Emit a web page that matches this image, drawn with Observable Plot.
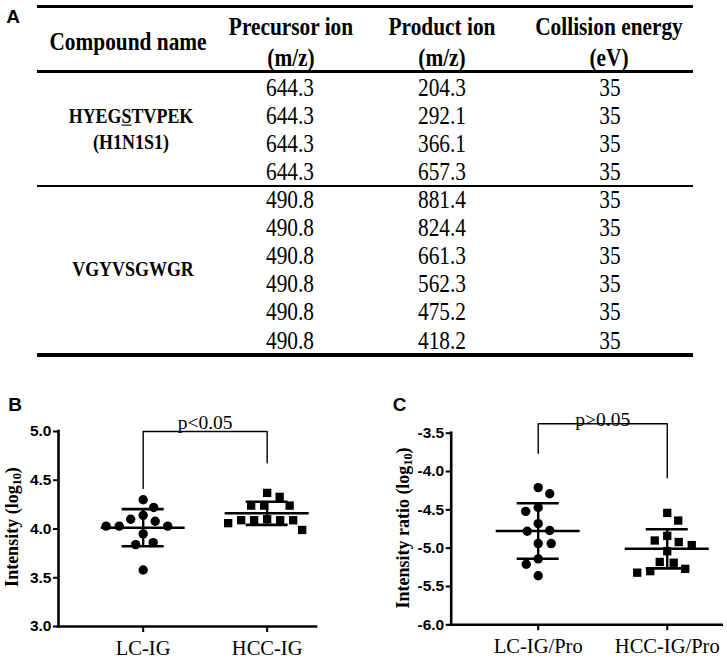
<!DOCTYPE html>
<html><head><meta charset="utf-8">
<script src="https://cdn.jsdelivr.net/npm/d3@7"></script>
<script src="https://cdn.jsdelivr.net/npm/@observablehq/plot@0.6"></script>
<style>
html,body{margin:0;padding:0;background:#fff;}
#root{position:relative;width:727px;height:660px;overflow:hidden;color:#000;}
.t{position:absolute;transform:translate(-50%,-50%);line-height:1;white-space:nowrap;}
.tall{transform:translate(-50%,-50%) scale(0.97,1.12);}
.serif{font-family:"Liberation Serif","Times New Roman",serif;}
.sans{font-family:"Liberation Sans",Arial,sans-serif;font-weight:bold;}
.rule{position:absolute;background:#000;}
svg{position:absolute;}
</style></head><body><div id="root"></div>
<script>
// ---------- Panel A: table data ----------
const headerTop = ["Compound name", "Precursor ion", "Product ion", "Collision energy"];
const headerUnits = ["", "(m/z)", "(m/z)", "(eV)"];
const compoundNames = ["HYEGSTVPEK", "VGYVSGWGR"];
const compoundGlycans = ["(H1N1S1)", ""];
const compoundSiteIndex = [4, -1];
const compoundRowCounts = [4, 6];
const precursorIon = [644.3, 644.3, 644.3, 644.3, 490.8, 490.8, 490.8, 490.8, 490.8, 490.8];
const productIon = [204.3, 292.1, 366.1, 657.3, 881.4, 824.4, 661.3, 562.3, 475.2, 418.2];
const collisionEnergy = [35, 35, 35, 35, 35, 35, 35, 35, 35, 35];

// ---------- Panel B data ----------
const groupsB = ["LC-IG", "HCC-IG"];
const lcIG = [4.30, 4.22, 4.14, 4.10, 4.08, 4.03, 4.03, 4.03, 3.95, 3.86, 3.84, 3.58];
const hccIG = [4.37, 4.33, 4.24, 4.24, 4.24, 4.10, 4.09, 4.09, 4.09, 4.09, 4.06, 3.99];
const yTicksB = [3.0, 3.5, 4.0, 4.5, 5.0];
const bracketB = {y: 5.0, leftEnd: 4.415, rightEnd: 4.68, label: "p<0.05"};

// ---------- Panel C data ----------
const groupsC = ["LC-IG/Pro", "HCC-IG/Pro"];
const lcIGPro = [-4.21, -4.29, -4.47, -4.52, -4.68, -4.77, -4.78, -4.94, -4.94, -5.14, -5.21, -5.36];
const hccIGPro = [-4.54, -4.64, -4.84, -4.90, -4.92, -4.96, -5.04, -5.18, -5.19, -5.27, -5.30, -5.32];
const yTicksC = [-6.0, -5.5, -5.0, -4.5, -4.0, -3.5];
const bracketC = {y: -3.377, leftEnd: -3.761, rightEnd: -4.082, label: "p>0.05"};

const root = document.getElementById("root");
function put(html, x, y, cls, extra) {
  const d = document.createElement("div");
  d.className = "t " + cls;
  d.style.left = x + "px";
  d.style.top = y + "px";
  if (extra) d.style.cssText += extra;
  d.innerHTML = html;
  root.appendChild(d);
  return d;
}
function rule(y, h) {
  const d = document.createElement("div");
  d.className = "rule";
  d.style.cssText += `left:37px;width:656px;top:${y - h / 2}px;height:${h}px;`;
  root.appendChild(d);
}

// ---------- Table layout ----------
put("A", 13, 16, "sans", "font-size:19px;");
rule(6.5, 3); rule(71, 3); rule(186, 2.2); rule(355, 3.5);
const headCols = [128, 291, 442, 609];
const headStyle = "font-size:22px;font-weight:bold;";
put(headerTop[0], headCols[0], 42, "serif tall", headStyle);
for (let c = 1; c < 4; c++) {
  put(headerTop[c], headCols[c], 27, "serif tall", headStyle);
  put(headerUnits[c], headCols[c], 58, "serif tall", headStyle);
}
const groupStart = [87.5, 200], rowStep = 28.1;
const dataCols = [290, 442, 610];
let row = 0;
compoundRowCounts.forEach((n, gi) => {
  for (let k = 0; k < n; k++, row++) {
    const y = groupStart[gi] + rowStep * k;
    put(precursorIon[row].toFixed(1), dataCols[0], y, "serif tall", "font-size:22px;");
    put(productIon[row].toFixed(1), dataCols[1], y, "serif tall", "font-size:22px;");
    put(String(collisionEnergy[row]), dataCols[2], y, "serif tall", "font-size:22px;");
  }
  const cy = groupStart[gi] + rowStep * (n - 1) / 2;
  const name = compoundNames[gi];
  const si = compoundSiteIndex[gi];
  const html = si >= 0 ? name.slice(0, si) + "<u>" + name[si] + "</u>" + name.slice(si + 1) : name;
  const st = "font-size:18.5px;font-weight:bold;";
  if (compoundGlycans[gi]) {
    put(html, 131, cy - 12.5, "serif tall", st);
    put(compoundGlycans[gi], 131, cy + 13.5, "serif tall", st);
  } else {
    put(html, 133, cy, "serif tall", st);
  }
});

// ---------- scatter panels ----------
function swarm(values, pxY, diam) {
  const order = d3.range(values.length).sort((a, b) => d3.descending(values[a], values[b]));
  const placed = [], offs = new Array(values.length);
  let flip = 1;
  for (const i of order) {
    const y = values[i] * pxY;
    let chosen = 0;
    for (let k = 0; k <= 400; k++) {
      const cands = k === 0 ? [0] : [flip * k * 0.5, -flip * k * 0.5];
      const ok = cands.find(x => placed.every(p => (p.x - x) ** 2 + (p.y - y) ** 2 >= diam * diam));
      if (ok !== undefined) { chosen = ok; break; }
    }
    if (chosen !== 0) flip = -Math.sign(chosen);
    placed.push({x: chosen, y});
    offs[i] = chosen;
  }
  return offs;
}

function panel({groups, series, yDomain, yTicks, xDomain, width, height, margin, bracket, left, top, textDy}) {
  const pxX = (width - margin.left - margin.right) / (xDomain[1] - xDomain[0]);
  const pxY = (height - margin.top - margin.bottom) / (yDomain[1] - yDomain[0]);
  const circles = [], squares = [], stats = [];
  series.forEach((vals, gi) => {
    const offs = swarm(vals, pxY, 13);
    vals.forEach((v, i) => (gi === 0 ? circles : squares).push({x: gi + 1 + offs[i] / pxX, value: v}));
    const m = d3.mean(vals), s = d3.deviation(vals);
    stats.push({g: gi + 1, mean: m, lo: m - s, hi: m + s});
  });
  const meanHalf = 42 / pxX, sdHalf = 21 / pxX;
  const br = [
    {x: 1, y: bracket.leftEnd}, {x: 1, y: bracket.y},
    {x: 2, y: bracket.y}, {x: 2, y: bracket.rightEnd}
  ];
  const svg = Plot.plot({
    width, height,
    marginLeft: margin.left, marginRight: margin.right, marginTop: margin.top, marginBottom: margin.bottom,
    x: {domain: xDomain, axis: null},
    y: {domain: yDomain, axis: null},
    style: {background: "none", color: "black", overflow: "visible"},
    marks: [
      Plot.ruleY([yDomain[0]], {strokeWidth: 2.6, strokeLinecap: "square"}),
      Plot.ruleX([xDomain[0]], {strokeWidth: 2.6, strokeLinecap: "square"}),
      Plot.axisY({ticks: yTicks, tickFormat: d => d.toFixed(1), tickSize: 5, tickPadding: 2, strokeWidth: 2,
        fontSize: 15.5, fontWeight: "bold", fontFamily: "Liberation Sans, Arial, sans-serif", label: null}),
      Plot.axisX({ticks: groups.map((d, i) => i + 1), tickFormat: d => groups[d - 1], tickSize: 6, tickPadding: 8,
        strokeWidth: 2, fontSize: 20.5, fontFamily: "Liberation Serif, Times New Roman, serif", label: null}),
      Plot.dot(circles, {x: "x", y: "value", r: 4.7, symbol: "circle", fill: "black"}),
      Plot.dot(squares, {x: "x", y: "value", r: 4.7, symbol: "square", fill: "black"}),
      Plot.ruleY(stats, {y: "mean", x1: d => d.g - meanHalf, x2: d => d.g + meanHalf, strokeWidth: 2.6}),
      Plot.ruleY(stats, {y: "hi", x1: d => d.g - sdHalf, x2: d => d.g + sdHalf, strokeWidth: 2.6}),
      Plot.ruleY(stats, {y: "lo", x1: d => d.g - sdHalf, x2: d => d.g + sdHalf, strokeWidth: 2.6}),
      Plot.ruleX(stats, {x: "g", y1: "lo", y2: "hi", strokeWidth: 2.4}),
      Plot.line(br, {x: "x", y: "y", strokeWidth: 1.4}),
      Plot.text([bracket], {x: () => 1.5, y: "y", text: "label", lineAnchor: "bottom", dy: textDy,
        fontSize: 19.5, fontFamily: "Liberation Serif, Times New Roman, serif"})
    ]
  });
  svg.style.left = left + "px";
  svg.style.top = top + "px";
  root.appendChild(svg);
}

panel({
  groups: groupsB, series: [lcIG, hccIG], yDomain: [3, 5], yTicks: yTicksB,
  xDomain: [0.317, 2.398], width: 360, height: 280,
  margin: {left: 58, right: 44, top: 51, bottom: 34}, bracket: bracketB, left: 0, top: 380, textDy: -3
});
panel({
  groups: groupsC, series: [lcIGPro, hccIGPro], yDomain: [-6, -3.5], yTicks: yTicksC,
  xDomain: [0.3256, 2.426], width: 367, height: 280,
  margin: {left: 90.7, right: 5.3, top: 52.7, bottom: 35.7}, bracket: bracketC, left: 360, top: 380, textDy: 2
});

put("B", 15, 404, "sans", "font-size:19px;");
put("C", 399.5, 404, "sans", "font-size:19px;");
const sub = '<sub style="font-size:0.68em;vertical-align:-0.28em;line-height:0">10</sub>';
put("Intensity (log" + sub + ")", 12, 527, "serif",
  "font-size:18px;font-weight:bold;transform:translate(-50%,-50%) rotate(-90deg);");
put("Intensity ratio (log" + sub + ")", 403, 528, "serif",
  "font-size:18px;font-weight:bold;transform:translate(-50%,-50%) rotate(-90deg);");
</script></body></html>
